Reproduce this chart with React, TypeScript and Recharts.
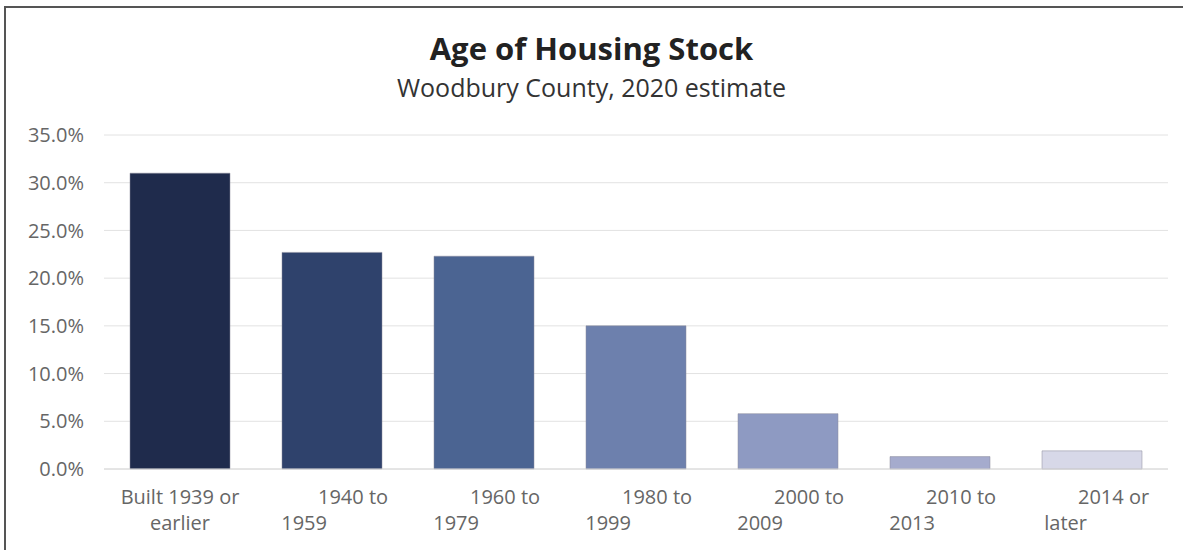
import React from "react";
import { BarChart, Bar, XAxis, YAxis, CartesianGrid, Cell } from "recharts";

const categories = [
  "Built 1939 or earlier",
  "1940 to 1959",
  "1960 to 1979",
  "1980 to 1999",
  "2000 to 2009",
  "2010 to 2013",
  "2014 or later",
];
const labelLines = [
  ["Built 1939 or", "earlier"],
  ["1940 to", "1959"],
  ["1960 to", "1979"],
  ["1980 to", "1999"],
  ["2000 to", "2009"],
  ["2010 to", "2013"],
  ["2014 or", "later"],
];
const shares = [31.0, 22.7, 22.3, 15.0, 5.8, 1.3, 1.9];
const yTicks = [0, 5, 10, 15, 20, 25, 30, 35];
const colors = ["#1f2b4c", "#2f426c", "#4b6492", "#6d80ad", "#8e9ac2", "#a5abcd", "#d7d8e8"];

const data = categories.map((name, i) => ({ name, value: shares[i] }));

const font = "'Open Sans', 'Noto Sans', sans-serif";

const XTick = (props: any) => {
  const { x, y, payload } = props;
  const i = payload.index;
  const [l1, l2] = labelLines[i];
  const first = i === 0;
  return (
    <g>
      <text
        x={first ? x : x - 14}
        y={y + 27}
        textAnchor={first ? "middle" : "start"}
        fill="#666"
        fontSize={20}
        fontFamily={font}
      >
        {l1}
      </text>
      <text
        x={first ? x : x - 5}
        y={y + 53}
        textAnchor={first ? "middle" : "end"}
        fill="#666"
        fontSize={20}
        fontFamily={font}
      >
        {l2}
      </text>
    </g>
  );
};

const App = () => {
  return (
    <div
      style={{
        position: "absolute",
        left: 0,
        top: 0,
        width: 1183,
        height: 550,
        background: "#fff",
        fontFamily: font,
      }}
    >
      <div
        style={{
          position: "absolute",
          left: 4,
          top: 6,
          width: 1179,
          height: 544,
          borderLeft: "2px solid #555",
          borderTop: "2px solid #555",
        }}
      />
      <div
        style={{
          position: "absolute",
          top: 28,
          width: "100%",
          textAlign: "center",
          fontSize: 31,
          fontWeight: 700,
          color: "#222",
          lineHeight: "40px",
        }}
      >
        Age of Housing Stock
      </div>
      <div
        style={{
          position: "absolute",
          top: 71,
          width: "100%",
          textAlign: "center",
          fontSize: 25,
          color: "#333",
          lineHeight: "32px",
        }}
      >
        Woodbury County, 2020 estimate
      </div>
      <div style={{ position: "absolute", left: 0, top: 0 }}>
        <BarChart
          width={1183}
          height={550}
          data={data}
          margin={{ top: 135, right: 15, bottom: 21, left: 0 }}
          barCategoryGap={26}
        >
          <CartesianGrid vertical={false} stroke="#e2e2e2" />
          <XAxis
            dataKey="name"
            height={60}
            tickLine={false}
            axisLine={{ stroke: "#d8d8d8" }}
            tick={<XTick />}
            interval={0}
          />
          <YAxis
            width={104}
            domain={[0, 35]}
            ticks={yTicks}
            tickLine={false}
            axisLine={false}
            tickMargin={14}
            tickFormatter={(v: number) => `${v.toFixed(1)}%`}
            tick={{ fill: "#666", fontSize: 20, fontFamily: font }}
          />
          <Bar dataKey="value" isAnimationActive={false} stroke="#8a8a9a" strokeWidth={0.5}>
            {data.map((d, i) => (
              <Cell key={`cell-${i}`} fill={colors[i]} />
            ))}
          </Bar>
        </BarChart>
      </div>
    </div>
  );
};

export default App;
